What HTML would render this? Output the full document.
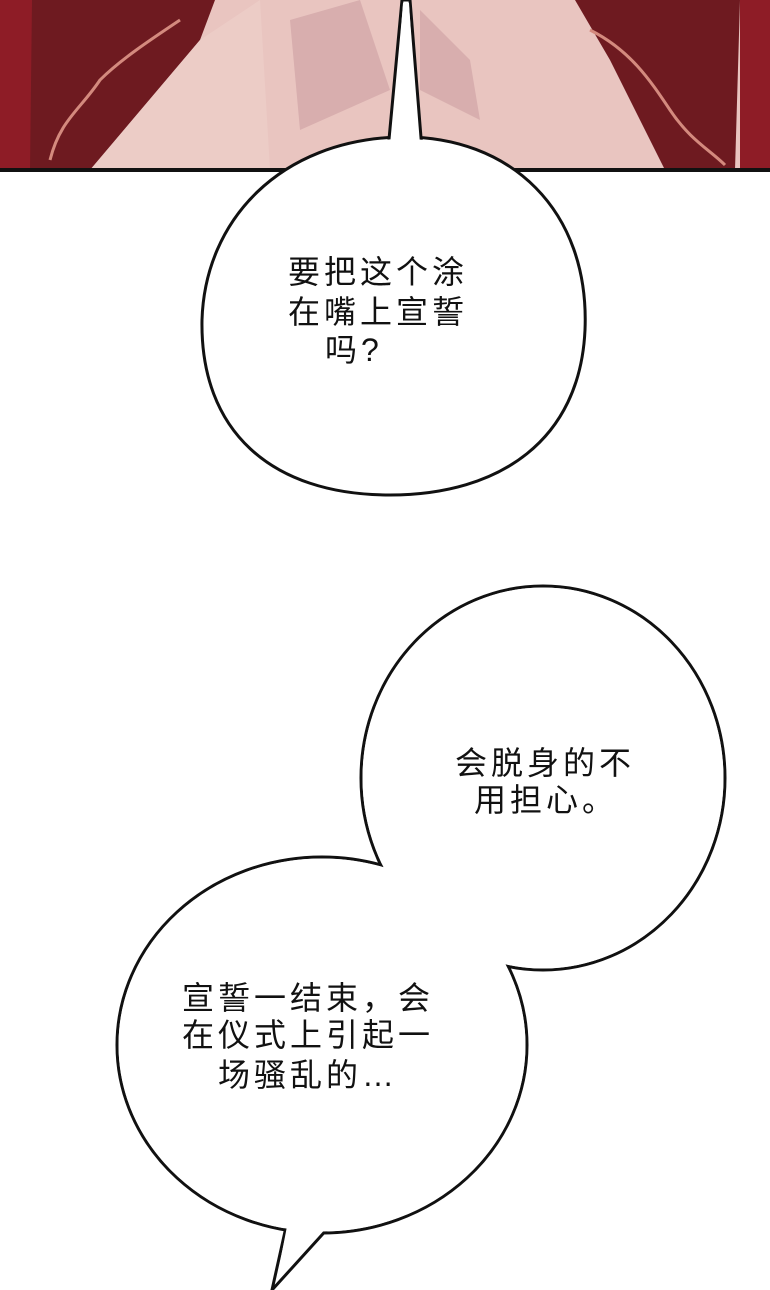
<!DOCTYPE html>
<html><head><meta charset="utf-8"><style>
html,body{margin:0;padding:0;background:#fff;}
#c{position:relative;width:770px;height:1290px;overflow:hidden;background:#fff;}
.t{position:absolute;font-family:"Liberation Sans","Noto Sans CJK SC",sans-serif;font-size:32px;letter-spacing:4px;color:#111;white-space:nowrap;line-height:32px;}
</style></head><body><div id="c">
<svg width="770" height="1290" style="position:absolute;left:0;top:0">
  <rect x="0" y="0" width="770" height="170" fill="#e9c5c0"/>
  <rect x="0" y="0" width="32" height="170" fill="#8e1c26"/>
  <polygon points="32,0 215,0 200,40 90,170 30,170" fill="#6e1a20"/>
  <polygon points="575,0 740,0 735,170 665,170 610,60" fill="#6e1a20"/>
  <rect x="740" y="0" width="30" height="170" fill="#8e1c26"/>
  <polygon points="200,40 260,0 270,170 90,170" fill="#ecccc6"/>
  <polygon points="290,20 360,0 390,90 300,130" fill="#d8aeae"/>
  <polygon points="420,10 470,60 480,120 420,90" fill="#d8aeae"/>
  <g fill="none" stroke="#d48a7e" stroke-width="3">
    <path d="M50,160 C60,120 80,110 100,80 C120,60 150,40 180,20"/>
    <path d="M590,30 C630,50 650,80 670,110 C690,140 710,150 725,165"/>
  </g>
  <rect x="0" y="168" width="770" height="4" fill="#111"/>
  <g stroke="#111" stroke-width="3" fill="#fff">
    <path d="M400,137 C510,135 590,210 585,330 C580,440 500,495 390,495 C270,495 200,430 202,320 C205,220 280,140 400,137 Z"/>
    <ellipse cx="543" cy="778" rx="182" ry="192"/>
    <ellipse cx="322" cy="1045" rx="205" ry="188"/>
    <polygon points="388,150 402,0 410,0 422,150"/>
    <polygon points="292,1200 272,1290 340,1215"/>
  </g>
  <g fill="#fff">
    <path d="M400,139 C508,137 588,210 583,330 C578,438 500,493 390,493 C272,493 202,430 204,320 C207,222 282,142 400,139 Z"/>
    <ellipse cx="543" cy="778" rx="180.5" ry="190.5"/>
    <ellipse cx="322" cy="1045" rx="203.5" ry="186.5"/>
    <polygon points="391,160 403,3 409,3 419,160"/>
    <polygon points="296,1180 276,1283 336,1200"/>
  </g>
</svg>
<div class="t" style="left:288px;top:256px">要把这个涂</div>
<div class="t" style="left:288px;top:296px">在嘴上宣誓</div>
<div class="t" style="left:325px;top:334px">吗?</div>
<div class="t" style="left:455px;top:747px">会脱身的不</div>
<div class="t" style="left:474px;top:784px">用担心。</div>
<div class="t" style="left:182px;top:982px">宣誓一结束，会</div>
<div class="t" style="left:182px;top:1019px">在仪式上引起一</div>
<div class="t" style="left:218px;top:1059px">场骚乱的…</div>
</div></body></html>
